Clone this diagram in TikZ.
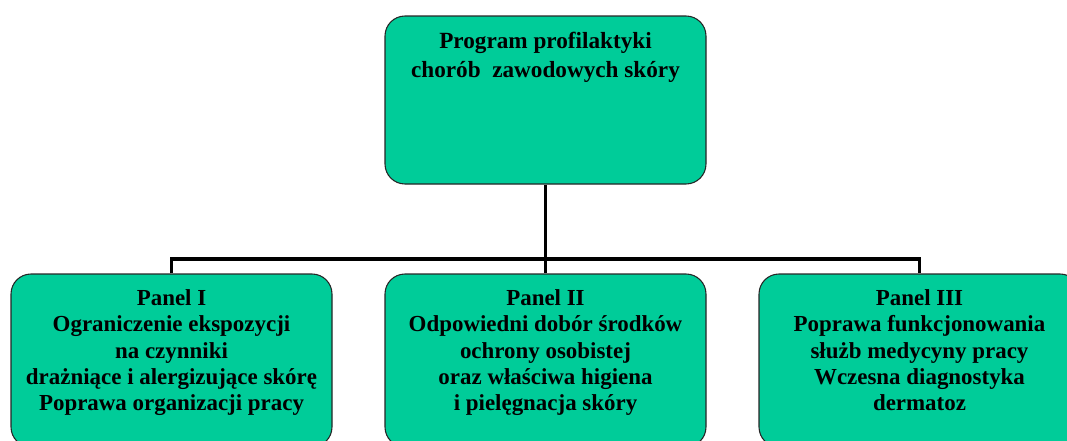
\documentclass[tikz,border=0pt]{standalone}
\usepackage{fontspec}
\setmainfont{Liberation Serif}
\definecolor{panelgreen}{RGB}{0,204,153}
\tikzset{
  box/.style={draw=black!85, line width=0.8pt, fill=panelgreen, rounded corners=15pt,
    minimum width=240.75pt, minimum height=129.75pt, inner sep=0pt},
  boxtext/.style={anchor=north, inner sep=0pt, align=center,
    font=\bfseries\fontsize{17.2}{19.7}\selectfont},
  link/.style={line width=2.9pt}
}
\begin{document}
\begin{tikzpicture}[x=0.75pt,y=0.75pt,yscale=-1,xscale=1]
\path[use as bounding box] (0,0) rectangle (1067,440);
\clip (0,0) rectangle (1067,440);

% Boxes
\node[box, minimum height=126pt] (prog) at (545.5,100) {};
\node[box] (panelA) at (171.5,360.5) {};
\node[box] (panelB) at (545.5,360.5) {};
\node[box] (panelC) at (919.5,360.5) {};

% Texts
\node[boxtext, font=\bfseries\fontsize{17.4}{21.75}\selectfont] (progtxt) at (545.5,31.5)
  {Program profilaktyki\\chorób\ \ zawodowych skóry};
\node[boxtext] (panelAtxt) at (171.5,289.5)
  {Panel I\\Ograniczenie ekspozycji\\na czynniki\\drażniące i alergizujące skórę\\Poprawa organizacji pracy};
\node[boxtext] (panelBtxt) at (545.5,289.5)
  {Panel II\\Odpowiedni dobór środków\\ochrony osobistej\\oraz właściwa higiena\\i pielęgnacja skóry};
\node[boxtext] (panelCtxt) at (919.5,289.5)
  {Panel III\\Poprawa funkcjonowania\\służb medycyny pracy\\Wczesna diagnostyka\\dermatoz};

% Connections
\coordinate (bus) at (545.5,259);
\draw[link] (prog.south) -- (panelB.north);
\draw[link] (panelA.north) |- (bus) -| (panelC.north);

\end{tikzpicture}
\end{document}
